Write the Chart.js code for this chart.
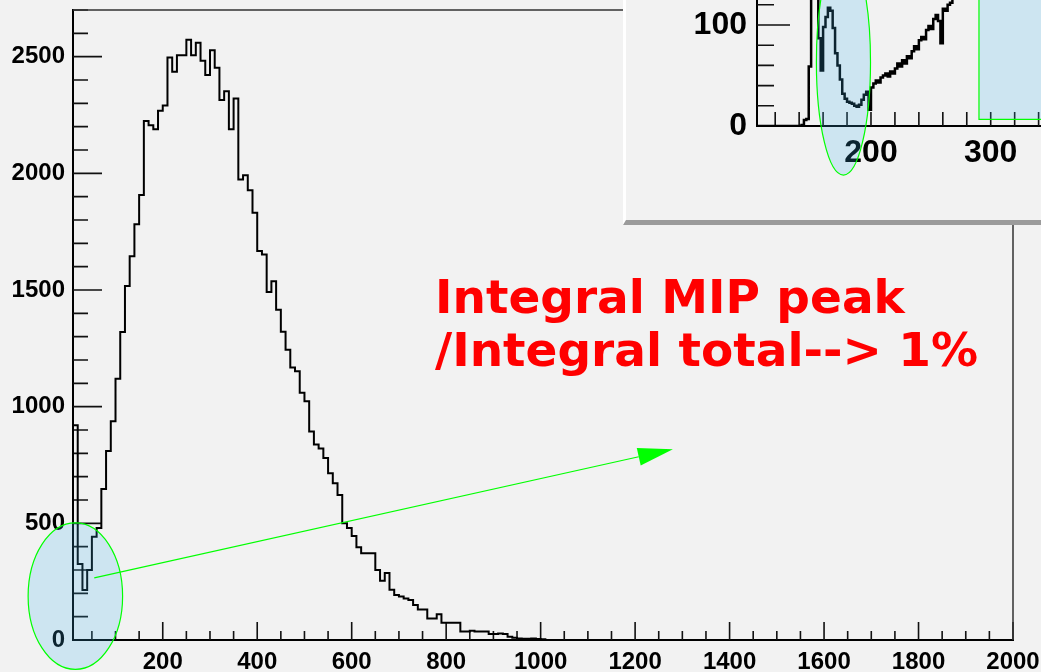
<!DOCTYPE html>
<html>
<head>
<meta charset="utf-8">
<script src="https://cdn.jsdelivr.net/npm/chart.js@4.4.1/dist/chart.umd.min.js"></script>
<style>
  html, body { margin: 0; padding: 0; background: #f2f2f2; overflow: hidden; }
  #wrap { position: relative; width: 1041px; height: 672px; overflow: hidden; }
  #main { position: absolute; left: 0; top: 0; }
  #note { position: absolute; left: 435px; top: 270px; color: #ff0000; font: bold 47px/53px "DejaVu Sans", sans-serif; white-space: pre; }
  #pad { position: absolute; left: 623px; top: 0; width: 430px; height: 225px; box-sizing: border-box;
         background: #f2f2f2; border-left: 3px solid #ffffff; border-bottom: 5px solid #9b9b9b; }
  #inset { position: absolute; left: 626px; top: 0; }
</style>
</head>
<body>
<div id="wrap">
  <canvas id="main" width="1041" height="672"></canvas>
  <div id="note">Integral MIP peak
/Integral total--&gt; 1%</div>
  <div id="pad"></div>
  <canvas id="inset" width="415" height="220"></canvas>
</div>
<script>
// ===== main histogram (bins of 10 starting at 10) =====
const BIN_START = 10;
const BIN_WIDTH = 10;
const COUNTS = [
  920, 326, 214, 300, 443, 480, 647, 810, 938, 1120,
  1320, 1517, 1645, 1782, 1907, 2224, 2206, 2189, 2268, 2291,
  2496, 2435, 2506, 2506, 2573, 2506, 2560, 2482, 2421, 2528,
  2452, 2314, 2352, 2189, 2321, 1974, 1992, 1928, 1831, 1667,
  1652, 1491, 1538, 1415, 1321, 1244, 1168, 1152, 1060, 1023,
  894, 838, 821, 780, 715, 672, 621, 500, 480, 446,
  398, 372, 372, 372, 300, 254, 287, 215, 193, 186,
  178, 171, 150, 131, 131, 92, 92, 110, 74, 74,
  74, 74, 36, 36, 40, 36, 36, 36, 26, 26,
  28, 26, 14, 10, 6, 5, 5, 6, 4, 3
];
const X_LABELS = [200, 400, 600, 800, 1000, 1200, 1400, 1600, 1800, 2000];
const Y_LABELS = [0, 500, 1000, 1500, 2000, 2500];

// ===== inset histogram (bins of 2 starting at 100) =====
const INSET_BIN_START = 100;
const INSET_BIN_WIDTH = 2;
const INSET_COUNTS = [
  0, 0, 0, 0, 0, 0, 0, 0, 0, 0,
  0, 0, 0, 0, 0, 0, 0, 0, 0, 0,
  0, 1, 6, 7, 59, 140, 150, 135, 87, 55,
  98, 108, 117, 114, 97, 72, 60, 46, 32, 27,
  24, 23, 22, 20, 19, 21, 26, 31, 34, 16,
  38, 42, 45, 43, 48, 50, 52, 49, 54, 52,
  57, 62, 59, 65, 62, 69, 67, 74, 79, 76,
  85, 88, 86, 95, 99, 96, 106, 110, 104, 82,
  116, 114, 120, 122, 128, 131, 134, 136, 140, 142,
  146, 148, 151, 154, 156, 160, 162, 165, 168, 170,
  173, 176, 178, 181, 184, 186, 189, 192, 194, 197,
  200, 202, 205, 207, 210, 212, 215, 217, 220, 222,
  225, 228
];
const INSET_X_LABELS = [200, 300];
const INSET_Y_LABELS = [0, 100];

// ===== annotations (data coordinates) =====
const MAIN_ELLIPSE = { x: 15, y: 188, rx: 100, ry: 314 };
const MAIN_ARROW = { x0: 55, y0: 266, x1: 1280, y1: 818 };
const INSET_ELLIPSE = { x: 177, y: 63.4, rx: 22.6, ry: 112 };
const INSET_BOX = { x0: 290.2, y0: 6.6 };

const TINT = 'rgba(60,180,240,0.2)';
const GREEN = '#00ff00';

// point i carries the count of the bin that ends at it (stepped: 'after')
function histPoints(start, width, counts) {
  const pts = [{ x: start, y: 0 }];
  counts.forEach((c, i) => pts.push({ x: start + i * width, y: c }));
  pts.push({ x: start + counts.length * width, y: 0 });
  return pts;
}

// ===== inward ticks like ROOT =====
function inTicks(o) {
  return {
    id: 'inTicks',
    beforeDatasetsDraw(chart) {
      const { ctx, scales: { x, y } } = chart;
      const bottom = y.getPixelForValue(0), left = x.left;
      ctx.save();
      ctx.strokeStyle = '#111';
      ctx.lineWidth = 1.6;
      ctx.beginPath();
      for (let v = Math.ceil(x.min / o.xStep) * o.xStep; v <= x.max; v += o.xStep) {
        const px = x.getPixelForValue(v);
        const len = v % o.xMajor === 0 ? o.xMajorLen : o.xMinorLen;
        ctx.moveTo(px, bottom); ctx.lineTo(px, bottom - len);
      }
      for (let v = o.yStep; v <= y.max; v += o.yStep) {
        const py = y.getPixelForValue(v);
        const len = v % o.yMajor === 0 ? o.yMajorLen : o.yMinorLen;
        ctx.moveTo(left, py); ctx.lineTo(left + len, py);
      }
      ctx.stroke();
      if (o.frame) {
        const a = chart.chartArea;
        ctx.strokeStyle = '#333';
        ctx.lineWidth = 1.5;
        ctx.beginPath();
        ctx.moveTo(a.left, a.top); ctx.lineTo(a.right, a.top); ctx.lineTo(a.right, a.bottom);
        ctx.stroke();
      }
      ctx.restore();
    }
  };
}

function drawEllipse(ctx, x, y, e) {
  const cx = x.getPixelForValue(e.x), cy = y.getPixelForValue(e.y);
  const rx = Math.abs(x.getPixelForValue(e.x + e.rx) - cx);
  const ry = Math.abs(y.getPixelForValue(e.y + e.ry) - cy);
  ctx.beginPath();
  ctx.ellipse(cx, cy, rx, ry, 0, 0, Math.PI * 2);
  ctx.fillStyle = TINT;
  ctx.fill();
  ctx.strokeStyle = GREEN;
  ctx.lineWidth = 1.2;
  ctx.stroke();
}

const mainOverlay = {
  id: 'mainOverlay',
  afterDraw(chart) {
    const { ctx, scales: { x, y } } = chart;
    ctx.save();
    drawEllipse(ctx, x, y, MAIN_ELLIPSE);
    const ax = x.getPixelForValue(MAIN_ARROW.x0), ay = y.getPixelForValue(MAIN_ARROW.y0);
    const bx = x.getPixelForValue(MAIN_ARROW.x1), by = y.getPixelForValue(MAIN_ARROW.y1);
    const ang = Math.atan2(by - ay, bx - ax);
    const hl = 35, hw = 9;
    const cx = bx - hl * Math.cos(ang), cy = by - hl * Math.sin(ang);
    ctx.strokeStyle = GREEN;
    ctx.lineWidth = 1.2;
    ctx.beginPath();
    ctx.moveTo(ax, ay); ctx.lineTo(cx, cy);
    ctx.stroke();
    ctx.fillStyle = GREEN;
    ctx.beginPath();
    ctx.moveTo(bx, by);
    ctx.lineTo(cx - hw * Math.sin(ang), cy + hw * Math.cos(ang));
    ctx.lineTo(cx + hw * Math.sin(ang), cy - hw * Math.cos(ang));
    ctx.closePath();
    ctx.fill();
    ctx.restore();
  }
};

const insetOverlay = {
  id: 'insetOverlay',
  afterDraw(chart) {
    const { ctx, scales: { x, y } } = chart;
    ctx.save();
    drawEllipse(ctx, x, y, INSET_ELLIPSE);
    const bx = x.getPixelForValue(INSET_BOX.x0), by = y.getPixelForValue(INSET_BOX.y0);
    ctx.fillStyle = TINT;
    ctx.fillRect(bx, -5, chart.width + 5 - bx, by + 5);
    ctx.strokeStyle = GREEN;
    ctx.lineWidth = 1.2;
    ctx.beginPath();
    ctx.moveTo(bx, -5); ctx.lineTo(bx, by); ctx.lineTo(chart.width + 5, by);
    ctx.stroke();
    ctx.restore();
  }
};

function axis(opts) {
  return Object.assign({
    type: 'linear',
    grid: { display: false, drawTicks: false },
    border: { display: true, color: '#000', width: 2 }
  }, opts);
}

// ===== main chart =====
new Chart(document.getElementById('main'), {
  type: 'line',
  data: {
    datasets: [{
      data: histPoints(BIN_START, BIN_WIDTH, COUNTS),
      stepped: 'before', borderColor: '#000', borderWidth: 2, pointRadius: 0, fill: false
    }]
  },
  options: {
    responsive: false, animation: false,
    layout: { padding: { top: 10, right: 28, left: 0, bottom: 0 } },
    plugins: { legend: { display: false }, tooltip: { enabled: false } },
    scales: {
      x: axis({
        min: 10, max: 2000,
        afterBuildTicks: s => { s.ticks = X_LABELS.map(v => ({ value: v })); },
        afterFit: s => { s.height = 32; s.paddingLeft = 0; s.paddingRight = 0; },
        ticks: { autoSkip: false, maxRotation: 0, color: '#000', padding: 8, callback: v => String(v),
                 font: { family: 'Liberation Sans', size: 24, weight: 'bold' } }
      }),
      y: axis({
        min: 0, max: 2700,
        afterBuildTicks: s => { s.ticks = Y_LABELS.map(v => ({ value: v })); },
        afterFit: s => { s.width = 73; s.paddingTop = 0; s.paddingBottom = 0; },
        ticks: { autoSkip: false, color: '#000', padding: 8, callback: v => String(v),
                 font: { family: 'Liberation Sans', size: 24, weight: 'bold' } }
      })
    }
  },
  plugins: [inTicks({ xStep: 50, xMajor: 200, xMajorLen: 18, xMinorLen: 9,
                      yStep: 100, yMajor: 500, yMajorLen: 29, yMinorLen: 15, frame: true }), mainOverlay]
});

// ===== inset chart =====
new Chart(document.getElementById('inset'), {
  type: 'line',
  data: {
    datasets: [{
      data: histPoints(INSET_BIN_START, INSET_BIN_WIDTH, INSET_COUNTS),
      stepped: 'before', borderColor: '#000', borderWidth: 2.5, pointRadius: 0, fill: false
    }]
  },
  options: {
    responsive: false, animation: false,
    layout: { padding: 0 },
    plugins: { legend: { display: false }, tooltip: { enabled: false } },
    scales: {
      x: axis({
        min: 104.8, max: 342,
        afterBuildTicks: s => { s.ticks = INSET_X_LABELS.map(v => ({ value: v })); },
        afterFit: s => { s.height = 94; s.paddingLeft = 0; s.paddingRight = 0; },
        ticks: { autoSkip: false, maxRotation: 0, color: '#000', padding: 8, callback: v => String(v),
                 font: { family: 'Liberation Sans', size: 32, weight: 'bold' } }
      }),
      y: axis({
        min: 0, max: 124.75,
        afterBuildTicks: s => { s.ticks = INSET_Y_LABELS.map(v => ({ value: v })); },
        afterFit: s => { s.width = 131; s.paddingTop = 0; s.paddingBottom = 0; },
        ticks: { autoSkip: false, color: '#000', padding: 10, callback: v => String(v),
                 font: { family: 'Liberation Sans', size: 32, weight: 'bold' } }
      })
    }
  },
  plugins: [inTicks({ xStep: 20, xMajor: 100, xMajorLen: 14, xMinorLen: 14,
                      yStep: 20, yMajor: 100, yMajorLen: 33, yMinorLen: 17, frame: false }), insetOverlay]
});
</script>
</body>
</html>
